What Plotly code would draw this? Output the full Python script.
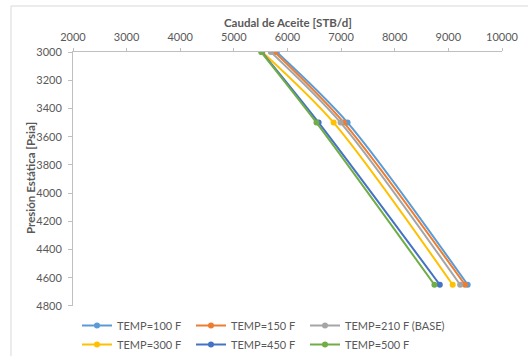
import plotly.graph_objects as go

pressure = [3000, 3500, 4650]
series_names = ["TEMP=100 F", "TEMP=150 F", "TEMP=210 F (BASE)",
                "TEMP=300 F", "TEMP=450 F", "TEMP=500 F"]
rate_100 = [5800, 7120, 9360]
rate_150 = [5760, 7050, 9310]
rate_210 = [5690, 6990, 9220]
rate_300 = [5530, 6860, 9080]
rate_450 = [5520, 6580, 8840]
rate_500 = [5510, 6540, 8740]
colors = ["#5B9BD5", "#ED7D31", "#A5A5A5", "#FFC000", "#4472C4", "#70AD47"]
x_ticks = [2000, 3000, 4000, 5000, 6000, 7000, 8000, 9000, 10000]
y_ticks = [3000, 3200, 3400, 3600, 3800, 4000, 4200, 4400, 4600, 4800]
x_title = "Caudal de Aceite [STB/d]"
y_title = "Presión Estática [Psia]"

FONT = "Lato"
TXT = "#595959"

legend_ids = ["legend", "legend2", "legend3", "legend", "legend2", "legend3"]

fig = go.Figure()
for name, vals, c, lg in zip(series_names,
                             [rate_100, rate_150, rate_210, rate_300, rate_450, rate_500],
                             colors, legend_ids):
    fig.add_trace(go.Scatter(
        x=vals, y=pressure, name=name, mode="lines+markers", legend=lg,
        line=dict(color=c, width=2, shape="spline", smoothing=0.8),
        marker=dict(color=c, size=6, symbol="circle"),
    ))

W, H = 528, 356
l, r, t, b = 73, 26, 52, 50
pw, ph = W - l - r, H - t - b


def leg(px):
    return dict(
        orientation="v", xref="container", yref="container",
        x=px / W, y=1 - 311 / H, xanchor="left", yanchor="top",
        itemwidth=30, bgcolor="rgba(0,0,0,0)",
        font=dict(family=FONT, size=11, color=TXT),
        tracegroupgap=0, traceorder="normal",
    )


fig.update_layout(
    width=W, height=H,
    margin=dict(l=l, r=r, t=t, b=b, autoexpand=False),
    paper_bgcolor="white", plot_bgcolor="white",
    font=dict(family=FONT, size=11, color=TXT),
    showlegend=True,
    legend=leg(77), legend2=leg(191), legend3=leg(305),
    xaxis=dict(
        side="top", range=[2000, 10000], tickvals=x_ticks, tickformat="d",
        showgrid=False, zeroline=False, showline=True, linecolor="#BFBFBF",
        linewidth=1, ticks="outside", ticklen=3, tickcolor="#BFBFBF",
        ticklabelstandoff=3,
        tickfont=dict(family=FONT, size=11, color=TXT),
    ),
    yaxis=dict(
        range=[4800.5, 2999.5], tickvals=y_ticks, tickformat="d",
        showgrid=False, zeroline=False, showline=True, linecolor="#BFBFBF",
        linewidth=1, ticks="outside", ticklen=4, tickcolor="#BFBFBF",
        ticklabelstandoff=4,
        tickfont=dict(family=FONT, size=11, color=TXT),
    ),
)

fig.add_annotation(text="<b>" + x_title + "</b>", xref="paper", yref="paper",
                   x=0.5, y=(H - b - 23) / ph, xanchor="center", yanchor="middle",
                   showarrow=False, font=dict(family=FONT, size=11.5, color=TXT))
fig.add_annotation(text="<b>" + y_title + "</b>", xref="paper", yref="paper",
                   x=(30 - l) / pw, y=(H - b - 178) / ph, xanchor="center",
                   yanchor="middle", textangle=-90, showarrow=False,
                   font=dict(family=FONT, size=11.5, color=TXT))

# chart-area border (left and top edges visible)
x_left = (11 - l) / pw
y_top = (H - b - 6) / ph
fig.add_shape(type="line", xref="paper", yref="paper",
              x0=x_left, x1=x_left, y0=y_top, y1=-(b + 5) / ph,
              line=dict(color="#D9D9D9", width=1))
fig.add_shape(type="line", xref="paper", yref="paper",
              x0=x_left, x1=(W - l + 5) / pw, y0=y_top, y1=y_top,
              line=dict(color="#D9D9D9", width=1))

fig.write_html("out.html")
